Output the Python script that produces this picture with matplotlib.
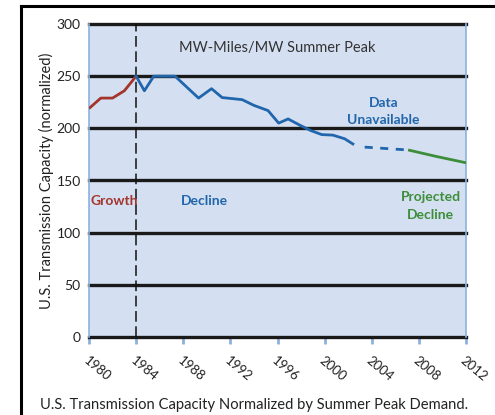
import matplotlib
matplotlib.use("Agg")
import matplotlib.pyplot as plt
from matplotlib.lines import Line2D

# ---- data ----
growth_years = [1980, 1981, 1982, 1983, 1984]
growth_vals = [219, 229, 229, 236, 250]

decline_years = [1984, 1984.7, 1985.5, 1987.3, 1989.3, 1990.4, 1991.3, 1993.0, 1994.0,
                 1995.2, 1996.1, 1996.9, 1997.9, 1998.8, 1999.75, 2000.7, 2001.7, 2002.4]
decline_vals = [250, 236, 250, 250, 229, 238, 229.5, 227.5, 222,
                217, 205, 209, 203, 198, 194, 193.5, 190, 185]

gap_years = [2003.4, 2006.75]
gap_vals = [182, 179.5]

proj_years = [2007.2, 2009.5, 2012]
proj_vals = [179, 173, 167]

xticks = [1980, 1984, 1988, 1992, 1996, 2000, 2004, 2008, 2012]
yticks = [0, 50, 100, 150, 200, 250, 300]

plt.rcParams['font.family'] = ['Lato', 'DejaVu Sans']

RED = '#a3352b'
BLUE = '#2166ac'
GREEN = '#3d8d3a'
BG = '#d4e0f1'
SPINE = '#8db2dc'

fig = plt.figure(figsize=(4.95, 4.15), dpi=100)
ax = fig.add_axes([89/495, 1-337/415, (466-89)/495, (337-24)/415])
ax.set_facecolor(BG)
ax.set_xlim(1980, 2012)
ax.set_ylim(0, 300)

for y in yticks:
    ax.axhline(y, color='#1a1a1a', lw=2.4, zorder=2, clip_on=False)

ax.plot([1984, 1984], [0, 300], color='#111111', lw=1.1, dashes=(7, 3), zorder=3)

ax.plot(growth_years, growth_vals, color=RED, lw=2.0, zorder=4, solid_capstyle='butt')
ax.plot(decline_years, decline_vals, color=BLUE, lw=2.0, zorder=4, solid_joinstyle='round')
ax.plot(gap_years, gap_vals, color=BLUE, lw=2.0, zorder=4, dashes=(2.9, 2.7),
        solid_capstyle='butt', dash_capstyle='butt')
ax.plot(proj_years, proj_vals, color=GREEN, lw=2.0, zorder=4)

for s in ['top', 'bottom']:
    ax.spines[s].set_visible(False)
for s in ['left', 'right']:
    ax.spines[s].set_color(SPINE)
    ax.spines[s].set_linewidth(1.2)

ax.set_xticks(xticks)
ax.set_xticklabels([str(x) for x in xticks], rotation=-40, ha='left', va='top',
                   rotation_mode='anchor', fontsize=9.5, color='#222222')
ax.tick_params(axis='x', length=5, width=2, color=SPINE, pad=7.5)
ax.set_yticks(yticks)
ax.set_yticklabels([str(y) for y in yticks], fontsize=10, color='#222222')
ax.tick_params(axis='y', length=0, pad=6)

ax.set_ylabel('U.S. Transmission Capacity (normalized)', fontsize=10.5, color='#222222',
              labelpad=2)

ax.text(1996, 277, 'MW-Miles/MW Summer Peak', ha='center', va='center', fontsize=10.5,
        color='#333333')
ax.text(2005, 224, 'Data', ha='center', va='center', fontsize=10, color=BLUE,
        fontweight='bold')
ax.text(2005, 208, 'Unavailable', ha='center', va='center', fontsize=10, color=BLUE,
        fontweight='bold')
ax.text(1980.15, 130, 'Growth', ha='left', va='center', fontsize=10, color=RED,
        fontweight='bold')
ax.text(1989.8, 130, 'Decline', ha='center', va='center', fontsize=10, color=BLUE,
        fontweight='bold')
ax.text(2009.0, 134, 'Projected', ha='center', va='center', fontsize=10, color=GREEN,
        fontweight='bold')
ax.text(2009.0, 117, 'Decline', ha='center', va='center', fontsize=10, color=GREEN,
        fontweight='bold')

fig.text(40/495, 1-405/415, 'U.S. Transmission Capacity Normalized by Summer Peak Demand.',
         ha='left', va='center', fontsize=10.6, color='#222222')

# outer frame (top and left edges)
fig.add_artist(Line2D([21/495, 1.0], [1-6/415, 1-6/415], color='black', lw=2.2,
                      transform=fig.transFigure))
fig.add_artist(Line2D([21/495, 21/495], [1-6/415, 0], color='black', lw=2.2,
                      transform=fig.transFigure))

fig.savefig('out.png', dpi=100)
